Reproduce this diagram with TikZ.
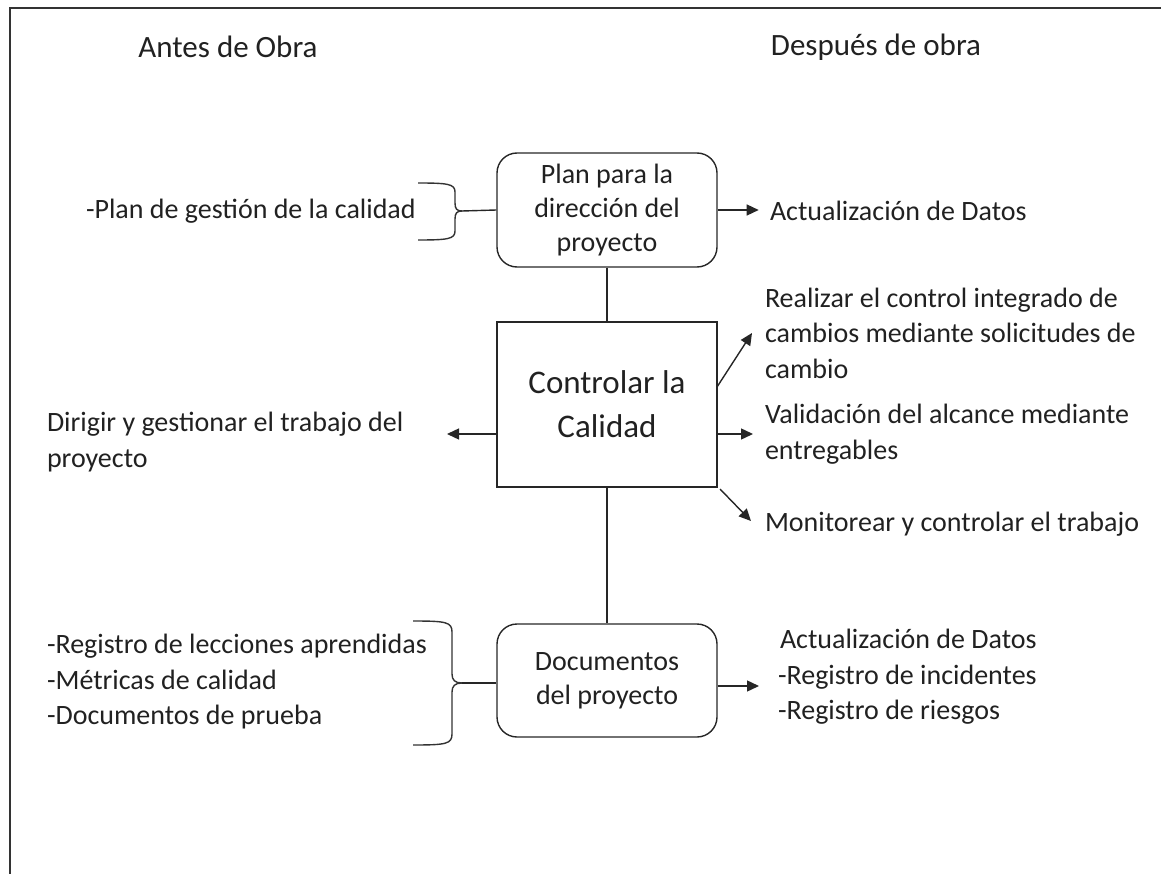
\documentclass[tikz,border=0pt]{standalone}
\usepackage{fontspec}
\setmainfont{Carlito}
\usetikzlibrary{arrows.meta}
\begin{document}
\begin{tikzpicture}[x=1pt,y=-1pt,
  txt/.style={inner sep=0pt,outer sep=0pt,font=\fontsize{28}{35.5}\selectfont,text=black!87,align=left,anchor=west},
  ttl/.style={inner sep=0pt,font=\fontsize{31}{37}\selectfont,text=black!87},
  rbox/.style={draw=black!85,line width=1.4pt,rounded corners=20pt,minimum width=220pt,align=center,font=\fontsize{28}{34}\selectfont,text=black!87},
  sbox/.style={draw=black!85,line width=1.4pt,minimum width=220pt,minimum height=165pt,align=center,font=\fontsize{33}{46}\selectfont,text=black!87},
  conn/.style={draw=black!85,line width=1.4pt},
  arr/.style={conn,-{Triangle[length=12pt,width=11pt]}},
  brc/.style={draw=black!80,line width=1.4pt}
]
\useasboundingbox (0,0) rectangle (1161,874);
\draw[black!80,line width=2pt] (10,874) -- (10,8) -- (1161,8);

\node[ttl] (antes) at (228,47) {Antes de Obra};
\node[ttl] (despues) at (876,47) {Después de obra};

\node[rbox,minimum height=114pt] (plan) at (607,210) {Plan para la\\dirección del\\proyecto};
\node[sbox] (ctrl) at (607,404.5) {Controlar la\\[-2pt]Calidad};
\node[rbox,minimum height=113pt] (docs) at (607,680.5) {Documentos\\del proyecto};

\draw[conn] (plan.south) -- (ctrl.north);
\draw[conn] (ctrl.south) -- (docs.north);

% top left
\node[txt] (pgc) at (86,211) {-Plan de gestión de la calidad};
\coordinate (tip1) at (462,211);
\draw[brc] (418,183) .. controls (448,183) and (455,184) .. (455,192) -- (455,203) .. controls (455,209) and (457,211) .. (tip1);
\draw[brc] (418,240) .. controls (448,240) and (455,239) .. (455,231) -- (455,219) .. controls (455,213) and (457,211) .. (tip1);
\draw[conn] (tip1) -- (plan.west);

% top right
\node[txt] (act1) at (770,211) {Actualización de Datos};
\draw[arr] (plan.east) -- ++(41,0) coordinate (a1);

% center
\node[txt] (dir) at (47,442) {Dirigir y gestionar el trabajo del\\proyecto};
\coordinate (ctrlL) at (ctrl.west |- 0,434);
\draw[arr] (ctrlL) -- (447,434);

\node[txt] (real) at (765,333) {Realizar el control integrado de\\cambios mediante solicitudes de\\cambio};
\node[txt] (vali) at (765,434) {Validación del alcance mediante\\entregables};
\node[txt] (moni) at (765,524) {Monitorear y controlar el trabajo};
\coordinate (c1) at (717,387);
\coordinate (c2) at (717,434);
\coordinate (c3) at (720,489);
\draw[arr] (c1) -- (752,333);
\draw[arr] (c2) -- (753,434);
\draw[arr] (c3) -- (751,521);

% bottom left
\node[txt] (reg) at (47,682) {-Registro de lecciones aprendidas\\-Métricas de calidad\\-Documentos de prueba};
\coordinate (tip2) at (462,683);
\draw[brc] (413,621) .. controls (446,621) and (452,622) .. (452,632) -- (452,674) .. controls (452,680) and (455,683) .. (tip2);
\draw[brc] (413,745) .. controls (446,745) and (452,744) .. (452,734) -- (452,692) .. controls (452,686) and (455,683) .. (tip2);
\draw[conn] (tip2) -- (docs.west |- tip2);

% bottom right
\node[txt] (act2) at (778,677) {\hspace*{2pt}Actualización de Datos\\-Registro de incidentes\\-Registro de riesgos};
\draw[arr] (docs.east |- 0,686) -- (759,686);
\end{tikzpicture}
\end{document}
